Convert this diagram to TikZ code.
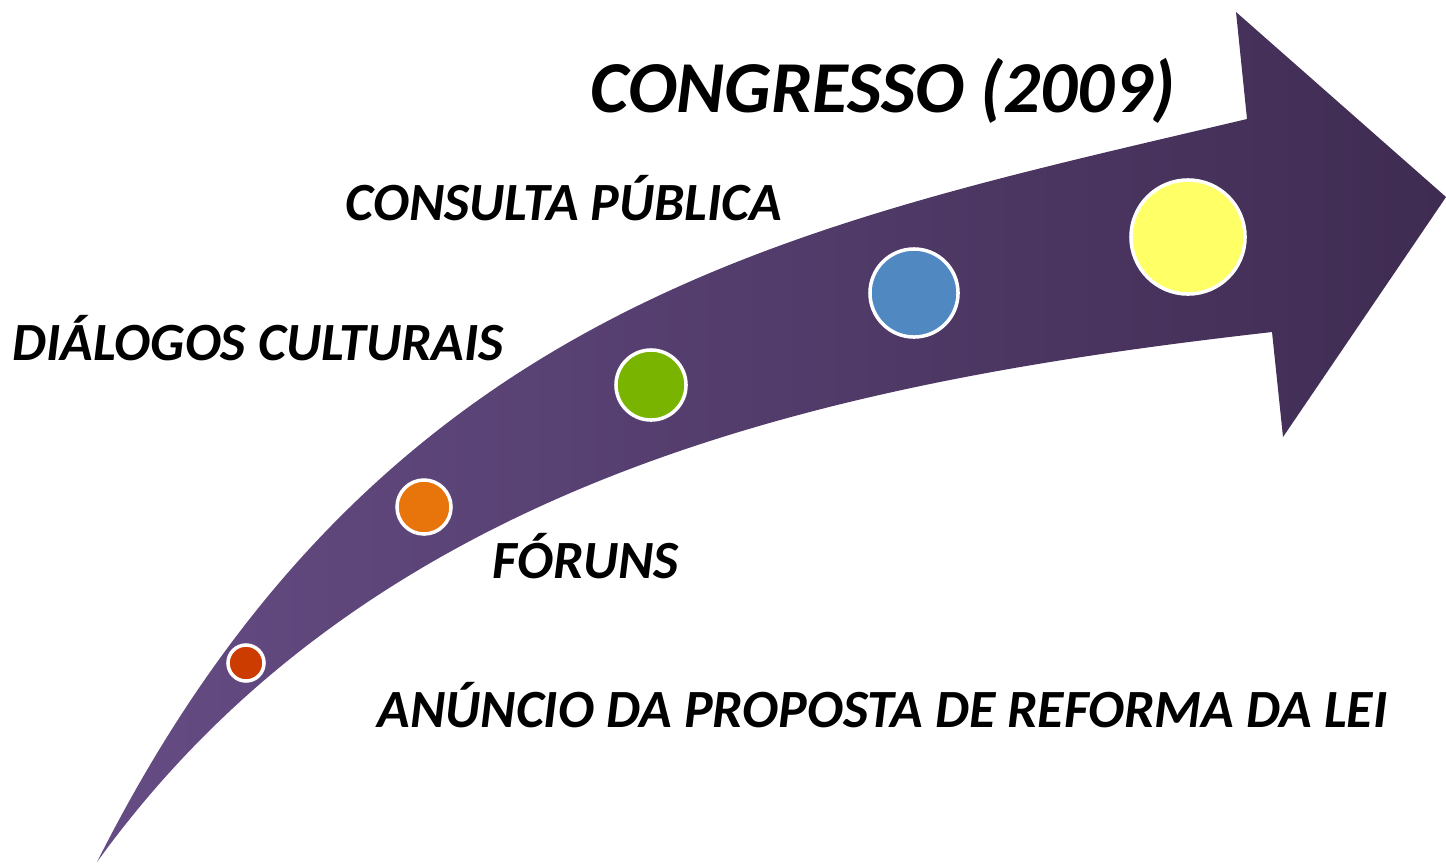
\documentclass[tikz,border=0pt]{standalone}
\usepackage{fontspec}
\setmainfont{Carlito}
\usepackage{xcolor}
\usepackage{tikz}
\usetikzlibrary{positioning}

\definecolor{arrowL}{HTML}{654C84}
\definecolor{arrowR}{HTML}{3F2C52}
\definecolor{dotred}{HTML}{CC3C00}
\definecolor{dotorange}{HTML}{E8740C}
\definecolor{dotgreen}{HTML}{78B400}
\definecolor{dotblue}{HTML}{5088C2}
\definecolor{dotyellow}{HTML}{FFFF66}

\tikzset{
  stage/.style={anchor=base west, inner sep=0pt, font=\bfseries\itshape\fontsize{15.3}{18}\selectfont},
  dot/.style={circle, draw=white, line width=1pt, inner sep=0pt}
}

\begin{document}
\begin{tikzpicture}[x=0.01cm, y=-0.01cm]

% Canvas (pixel units, y downwards)
\useasboundingbox (0,0) rectangle (1446,863);

% Curved arrow body
\shade[left color=arrowL, right color=arrowR]
  (97,862) .. controls (380,300) and (800,225) .. (1247,119)
  -- (1236,12) -- (1446,197) -- (1283,437) -- (1272,332)
  .. controls (850,380) and (380,470) .. (97,862) -- cycle;

% Milestones along the arrow
\node[dot, fill=dotred,    minimum size=0.36cm] (anuncio)  at (246,663) {};
\node[dot, fill=dotorange, minimum size=0.54cm] (foruns)   at (424,507) {};
\node[dot, fill=dotgreen,  minimum size=0.70cm] (dialogos) at (651,385) {};
\node[dot, fill=dotblue,   minimum size=0.88cm] (consulta) at (914,293) {};
\node[dot, fill=dotyellow, minimum size=1.14cm] (congresso) at (1188,237) {};

% Labels
\node[stage, font=\bfseries\itshape\fontsize{20.8}{24}\selectfont] (tcongresso) at (590,112)
  {CONGRESSO (2009)};
\node[stage] (tconsulta) at (345,220) {CONSULTA PÚBLICA};
\node[stage] (tdialogos) at (12,360)  {DIÁLOGOS CULTURAIS};
\node[stage] (tforuns)   at (492,578) {FÓRUNS};
\node[stage] (tanuncio)  at (377,727) {ANÚNCIO DA PROPOSTA DE REFORMA DA LEI};

\end{tikzpicture}
\end{document}
